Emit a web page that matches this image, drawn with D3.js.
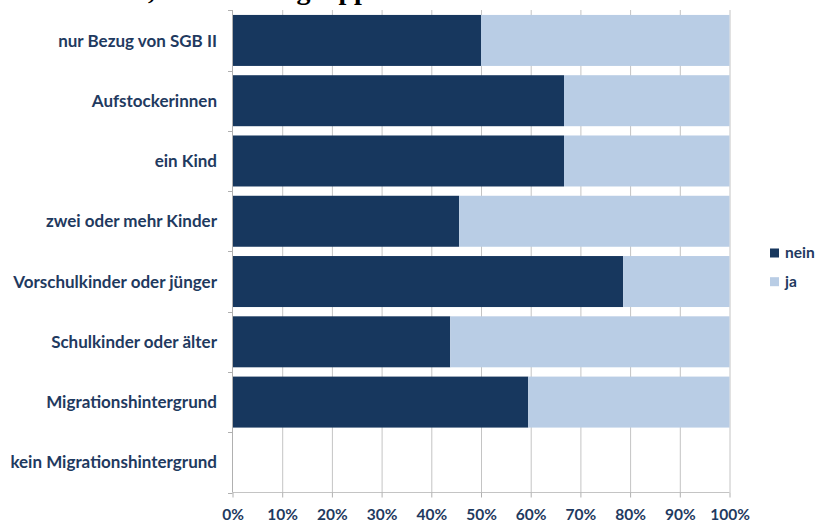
<!DOCTYPE html>
<html><head><meta charset="utf-8">
<script src="https://cdn.jsdelivr.net/npm/d3@7"></script>
<style>body{margin:0;background:#fff}svg{display:block}</style>
</head><body>
<svg id="c" width="819" height="522"></svg>
<script>
const categories = ["nur Bezug von SGB II","Aufstockerinnen","ein Kind","zwei oder mehr Kinder","Vorschulkinder oder jünger","Schulkinder oder älter","Migrationshintergrund","kein Migrationshintergrund"];
const nein = [50.0, 66.7, 66.7, 45.6, 78.6, 43.8, 59.5, null];
const ja   = [50.0, 33.3, 33.3, 54.4, 21.4, 56.2, 40.5, null];
const seriesNames = ["nein","ja"];
const xTicks = [0,10,20,30,40,50,60,70,80,90,100];
const titleText = ", nach Untergruppen";

const colors = {nein:"#17375e", ja:"#b9cde5"};
const textCol = "#1f3a60";
const svg = d3.select("#c");
const font = "Lato, 'Open Sans', sans-serif";

const x = d3.scaleLinear().domain([0,100]).range([232.5,729.5]);
const y = d3.scaleBand().domain(categories).range([10.3,492.5]).paddingInner(0.154).paddingOuter(0.077);

// title (cut off at the top, as in the reference)
svg.append("text").attr("x",148).attr("y",-1).attr("font-family","'Liberation Serif', serif")
  .attr("font-weight","bold").attr("font-size",28).attr("fill","#000").text(titleText);

// gridlines
svg.append("g").selectAll("line").data(xTicks.slice(1)).join("line")
  .attr("x1",d=>x(d)+0.5).attr("x2",d=>x(d)+0.5).attr("y1",10).attr("y2",492.5)
  .attr("stroke","#c4c4c4").attr("stroke-width",1);

// bars
const rows = categories.map((c,i)=>({c, nein:nein[i], ja:ja[i]}));
const stack = d3.stack().keys(seriesNames).value((d,k)=>d[k]==null?0:d[k]);
const layers = stack(rows);
svg.append("g").selectAll("g").data(layers).join("g").attr("fill",d=>colors[d.key])
  .selectAll("rect").data(d=>d.filter(p=>p.data.nein!=null)).join("rect")
  .attr("x",d=>x(d[0])).attr("width",d=>x(d[1])-x(d[0]))
  .attr("y",d=>y(d.data.c)).attr("height",y.bandwidth());

// left axis line and boundary ticks
const bounds = [10.3].concat(categories.map(c=>y(c)+y.bandwidth()+y.step()*y.paddingInner()/2));
bounds[bounds.length-1] = 492.5;
svg.append("line").attr("x1",232.5).attr("x2",232.5).attr("y1",10).attr("y2",492.5).attr("stroke","#b0b0b0");
svg.append("g").selectAll("line").data(bounds).join("line")
  .attr("x1",228).attr("x2",232.5).attr("y1",d=>Math.round(d)+0.5).attr("y2",d=>Math.round(d)+0.5).attr("stroke","#b0b0b0");

// bottom axis
const xAxis = d3.axisBottom(x).tickValues(xTicks).tickFormat(d=>d+"%").tickSize(5).tickPadding(11);
const gx = svg.append("g").attr("transform","translate(0,492.5)").call(xAxis);
gx.select(".domain").attr("stroke","#c4c4c4").attr("d","M232.5,0H729.5");
gx.selectAll(".tick line").attr("stroke","#b0b0b0");
gx.selectAll(".tick text").attr("font-family",font).attr("font-weight","bold").attr("font-size",15.5).attr("fill",textCol);

// category labels
svg.append("g").selectAll("text").data(categories).join("text")
  .attr("x",217).attr("y",d=>y(d)+y.bandwidth()/2).attr("dy","0.36em").attr("text-anchor","end")
  .attr("font-family",font).attr("font-weight","bold").attr("font-size",17).attr("fill",textCol).text(d=>d);

// legend
const lg = svg.append("g").selectAll("g").data(seriesNames).join("g")
  .attr("transform",(d,i)=>`translate(770,${248.5+i*28.7})`);
lg.append("rect").attr("width",9).attr("height",9).attr("fill",d=>colors[d]);
lg.append("text").attr("x",15).attr("y",4.5).attr("dy","0.35em").attr("font-family",font).attr("font-weight","bold")
  .attr("font-size",15.5).attr("fill",textCol).text(d=>d);
</script>
</body></html>
